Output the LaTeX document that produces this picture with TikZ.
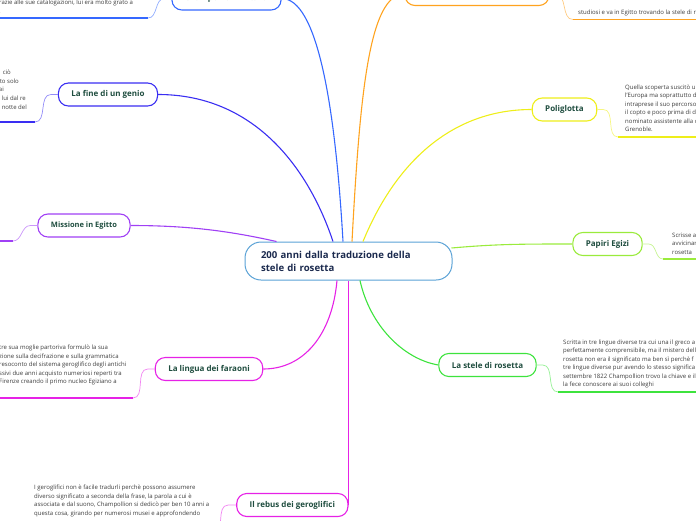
\documentclass[tikz,border=0pt]{standalone}
\usepackage{fontspec}
\setmainfont{Open Sans}
\usepackage{tikz}
\usetikzlibrary{positioning,calc}
\definecolor{MMcentre}{HTML}{5AA2D6}
\definecolor{MMtext}{HTML}{1F4D3F}
\definecolor{MMnavy}{HTML}{1B2A4E}
\definecolor{MMnote}{HTML}{3C3C3C}
\definecolor{MMblue}{HTML}{3568FF}
\definecolor{MMindigo}{HTML}{3A2EF2}
\definecolor{MMorange}{HTML}{FFA31F}
\definecolor{MMyellow}{HTML}{EEEE1A}
\definecolor{MMlime}{HTML}{9AEB3C}
\definecolor{MMgreen}{HTML}{3DE33D}
\definecolor{MMmagenta}{HTML}{E622E6}
\definecolor{MMpurple}{HTML}{A040F5}
\tikzset{
  topic/.style={draw=#1, line width=1.1pt, rounded corners=10pt, fill=white, minimum height=23pt,
    inner xsep=13pt, font=\fontsize{8}{9}\selectfont\bfseries, text=MMtext},
  branch/.style={draw=#1, line width=1.1pt},
  twig/.style={draw=#1!55, line width=0.7pt},
  shelf/.style={draw=#1, line width=1.5pt},
  note/.style={inner sep=0pt, align=left, font=\fontsize{6}{8.5}\selectfont, text=MMnote},
}

\begin{document}
\begin{tikzpicture}[x=1pt,y=-1pt]
\useasboundingbox (0,0) rectangle (696,520);
\clip (0,0) rectangle (696,520);

% centre
\node[draw=MMcentre, line width=1pt, rounded corners=16pt, fill=white, minimum height=38pt,
  text width=175pt, inner xsep=16pt, align=left, text=MMnavy,
  font=\fontsize{9.6}{13}\selectfont\bfseries] (cen) at (348.5,261)
  {200 anni dalla traduzione della\\stele di rosetta};

% topics
\node[topic=MMblue] (italia) at (226.5,-1.5) {Champollion in Italia};
\node[topic=MMorange, minimum width=144pt] (viaggio) at (477,-6) {};
\node[topic=MMindigo] (fine) at (108,94.5) {La fine di un genio};
\node[topic=MMpurple, font=\fontsize{7.5}{8}\selectfont\bfseries] (missione) at (84,225.5) {Missione in Egitto};
\node[topic=MMmagenta] (lingua) at (209,369) {La lingua dei faraoni};
\node[topic=MMmagenta, anchor=east] (rebus) at (348.5,505) {Il rebus dei geroglifici};
\node[topic=MMgreen] (stele) at (487.5,365) {La stele di rosetta};
\node[topic=MMlime] (papiri) at (607.5,244) {Papiri Egizi};
\node[topic=MMyellow] (poli) at (564.5,109.5) {Poliglotta};

% branches from the centre
\draw[branch=MMindigo] ($(cen.north)+(-15.5,0)$) .. controls +(-25,-75) and +(95,0) .. (fine.east);
\draw[branch=MMblue] ($(cen.north)+(-5.5,0)$) .. controls +(-8,-140) and +(35,0) .. (italia.east);
\draw[branch=MMorange] ($(cen.north)+(3.5,0)$) .. controls +(8,-150) and +(-35,0) .. (viaggio.west);
\draw[branch=MMyellow] ($(cen.north)+(14.5,0)$) .. controls +(35,-85) and +(-75,0) .. (poli.west);
\draw[branch=MMpurple] ($(cen.north west)+(32,0)$) .. controls +(-45,-10) and +(60,0) .. (missione.east);
\draw[branch=MMlime] ($(cen.east)+(-1,-13)$) .. controls +(45,-4) and +(-50,0) .. (papiri.west);
\draw[branch=MMgreen] ($(cen.south)+(11.5,0)$) .. controls +(10,45) and +(-35,-6) .. (stele.west);
\draw[branch=MMmagenta] ($(cen.south)+(-11.5,0)$) .. controls +(-5,55) and +(40,0) .. (lingua.east);
\draw[branch=MMmagenta] (cen.south) -- (rebus.east);

% notes
\coordinate (italia-a) at (148,18);
\draw[twig=MMblue] (italia.west) -- ++(-7,0) to[out=180,in=0] (italia-a);
\draw[shelf=MMblue] (italia-a) -- ++(-160,0);
\node[note, anchor=north west] (italia-note) at (-1,0) {razie alle sue catalogazioni, lui era molto grato a\\.};

\coordinate (viaggio-a) at (573,19.5);
\draw[twig=MMorange] (viaggio.east) -- ++(6,0) to[out=0,in=180] (viaggio-a);
\draw[shelf=MMorange] (viaggio-a) -- ++(140,0);
\node[note, anchor=north west] (viaggio-note) at (578,10) {studiosi e va in Egitto trovando la stele di r};

\coordinate (fine-a) at (35,122);
\draw[twig=MMindigo] (fine.west) -- ++(-7,0) to[out=180,in=0] (fine-a);
\draw[shelf=MMindigo] (fine-a) -- ++(-45,0);
\foreach \lab/\x/\y in {ciò/11/72, ato solo/19/81, ai/4/89.5, lui dal re/26/98, notte del/27/107}{
  \node[note, anchor=east] at (\x,\y) {\lab};
}

\coordinate (missione-a) at (13,241);
\draw[twig=MMpurple] (missione.west) -- ++(-7,0) to[out=180,in=0] (missione-a);
\draw[shelf=MMpurple] (missione-a) -- ++(-20,0);

\coordinate (poli-a) at (618,137);
\draw[twig=MMyellow] (poli.east) -- ++(6,0) to[out=0,in=180] (poli-a);
\draw[shelf=MMyellow] (poli-a) -- ++(90,0);
\node[note, anchor=north west] (poli-note) at (625,84.5) {Quella scoperta suscitò u\\l'Europa ma soprattutto d\\intraprese il suo percorso\\il copto e poco prima di di\\nominato assistente alla c\\Grenoble.};

\coordinate (papiri-a) at (663,259);
\draw[twig=MMlime] (papiri.east) -- ++(6,0) to[out=0,in=180] (papiri-a);
\draw[shelf=MMlime] (papiri-a) -- ++(40,0);
\node[note, anchor=north west] (papiri-note) at (672,232.5) {Scrisse a\\avvicinar\\rosetta};

\coordinate (stele-a) at (558,392);
\draw[twig=MMgreen] (stele.east) -- ++(6,0) to[out=0,in=180] (stele-a);
\draw[shelf=MMgreen] (stele-a) -- ++(150,0);
\node[note, anchor=north west] (stele-note) at (563,339.5) {Scritta in tre lingue diverse tra cui una il greco a\\perfettamente comprensibile, ma il mistero dell\\rosetta non era il significato ma ben sì perchè f\\tre lingue diverse pur avendo lo stesso significa\\settembre 1822 Champollion trovo la chiave e il\\la fece conoscere ai suoi colleghi};

\coordinate (lingua-a) at (133,398);
\draw[twig=MMmagenta] (lingua.west) -- ++(-7,0) to[out=180,in=0] (lingua-a);
\draw[shelf=MMmagenta] (lingua-a) -- ++(-140,0);
\node[note, anchor=north west] (lingua-note) at (-1,345) {tre sua moglie partoriva formulò la sua\\zione sulla decifrazione e sulla grammatica\\resoconto del sistema geroglifico degli antichi\\ssivi due anni acquisto numeriosi reperti tra\\Firenze creando il primo nucleo Egiziano a};

\coordinate (rebus-a) at (213,535);
\draw[twig=MMmagenta] (rebus.west) -- ++(-8,0) to[out=180,in=0] (rebus-a);
\node[note, anchor=north west] (rebus-note) at (34,485) {I geroglifici non è facile tradurli perchè possono assumere\\diverso significato a seconda della frase, la parola a cui è\\associata e dal suono, Champollion si dedicò per ben 10 anni a\\questa cosa, girando per numerosi musei e approfondendo};
\end{tikzpicture}
\end{document}
